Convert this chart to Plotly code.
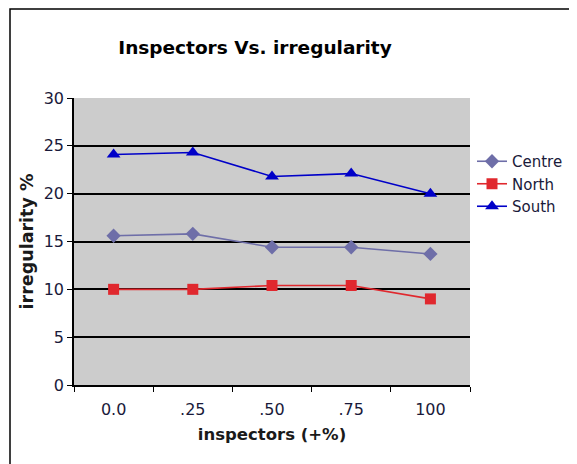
import plotly.graph_objects as go

categories = ["0.0", ".25", ".50", ".75", "100"]
centre = [15.6, 15.8, 14.4, 14.4, 13.7]
north = [10.0, 10.0, 10.4, 10.4, 9.0]
south = [24.1, 24.3, 21.8, 22.1, 20.0]
y_ticks = [0, 5, 10, 15, 20, 25, 30]

W, H = 577, 464
OFF = 8  # page body margin
ml, mt = 74 - OFF, 98 - OFF
pw, ph = 396, 287
mr = W - ml - pw
mb = H - mt - ph

def px_x(x):
    return (x - OFF - ml) / pw

def px_y(y):
    return (mt + ph - (y - OFF)) / ph

fig = go.Figure()
series = [
    ("Centre", centre, "#6e6ea8", "diamond", 11),
    ("North", north, "#e0282e", "square", 11),
    ("South", south, "#0000c8", "triangle-up", 12),
]
for name, vals, col, sym, sz in series:
    fig.add_trace(go.Scatter(
        x=categories, y=vals, name=name, mode="lines+markers",
        line=dict(color=col, width=1.6),
        marker=dict(symbol=sym, size=sz, color=col),
    ))

fig.update_layout(
    width=W, height=H,
    margin=dict(l=ml, r=mr, t=mt, b=mb, autoexpand=False),
    paper_bgcolor="white",
    plot_bgcolor="#cccccc",
    font=dict(family="DejaVu Sans", size=16, color="#1a1a3a"),
    title=dict(text="<b>Inspectors Vs. irregularity</b>", x=(255 - OFF) / W, xanchor="center",
               y=1 - (48 - OFF) / H, yanchor="middle",
               font=dict(size=18.5, color="black")),
    legend=dict(x=px_x(472), y=px_y(145), xanchor="left", yanchor="top",
                bgcolor="rgba(0,0,0,0)", font=dict(size=15, color="#1a1a3a"),
                tracegroupgap=0, itemwidth=30),
    showlegend=True,
)
fig.update_xaxes(
    type="category", range=[-0.5, 4.5], showgrid=False, showline=True,
    linecolor="black", linewidth=1.5,
    ticks="outside", tickson="boundaries", ticklen=5, tickcolor="black",
    tickfont=dict(size=16), ticklabelstandoff=9,
    title=dict(text="<b>inspectors (+%)</b>", font=dict(size=16.5, color="#1a1a1a"), standoff=10),
    zeroline=False,
)
fig.update_yaxes(
    range=[0, 30], tickvals=y_ticks, showgrid=True, gridcolor="black", gridwidth=1.5,
    showline=True, linecolor="black", linewidth=1.5, ticks="outside", ticklen=5,
    tickcolor="black", zeroline=False, tickfont=dict(size=16),
    title=dict(text="<b>irregularity %</b>", font=dict(size=17.5, color="#1a1a1a"), standoff=6),
)
# outer chart frame
fig.add_shape(type="rect", xref="paper", yref="paper",
              x0=px_x(10), x1=px_x(620),
              y0=px_y(520), y1=px_y(9),
              line=dict(color="black", width=1.5), fillcolor="rgba(0,0,0,0)", layer="below")
fig.write_html("out.html")
